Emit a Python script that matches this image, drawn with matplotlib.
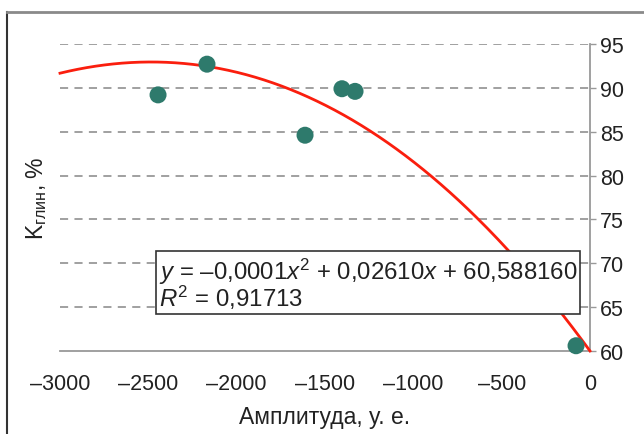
import numpy as np
import matplotlib.pyplot as plt
from matplotlib.lines import Line2D

plt.rcParams["font.family"] = ["Liberation Sans", "DejaVu Sans"]
plt.rcParams["mathtext.fontset"] = "custom"
plt.rcParams["mathtext.rm"] = "Liberation Sans"
plt.rcParams["mathtext.it"] = "Liberation Sans:italic"

amp = [-2445, -2168, -1613, -1404, -1330, -79]
k_glin = [89.2, 92.7, 84.6, 89.9, 89.6, 60.6]

trend_x = [-3000, -2774, -2547, -2168, -1698, -1245, -894, -623, -470, -187, 0]
trend_y = [91.8, 92.5, 92.7, 92.5, 90.0, 85.0, 80.0, 75.0, 71.3, 64.8, 60.2]

x_ticks = [-3000, -2500, -2000, -1500, -1000, -500, 0]
x_labels = ["–3000", "–2500", "–2000", "–1500", "–1000", "–500", "0"]
y_ticks = [60, 65, 70, 75, 80, 85, 90, 95]

eq_text = "$y$ = –0,0001$x^2$ + 0,02610$x$ + 60,588160\n$R^2$ = 0,91713"

fig = plt.figure(figsize=(6.44, 4.35), dpi=100)
ax = fig.add_axes([60 / 644, 83 / 435, 530 / 644, 307 / 435])

coef = np.polyfit(trend_x, trend_y, 3)
xx = np.linspace(-3000, 0, 300)
ax.plot(xx, np.polyval(coef, xx), color="#fa1e0e", lw=2, zorder=3, clip_on=False)

ax.scatter(amp, k_glin, s=150, color="#2e7a6c", zorder=4, clip_on=False, edgecolors="none")

ax.set_xlim(-3000, 0)
ax.set_ylim(60, 95)
ax.set_xticks(x_ticks)
ax.set_xticklabels(x_labels)
ax.set_yticks(y_ticks)
ax.yaxis.tick_right()
ax.tick_params(axis="x", length=0, pad=16, labelsize=15.5, labelcolor="#222222")
ax.tick_params(axis="y", length=4, width=1, color="#999999", pad=3, labelsize=15.5,
               labelcolor="#222222")

for s in ["top", "left"]:
    ax.spines[s].set_visible(False)
for s in ["right", "bottom"]:
    ax.spines[s].set_color("#999999")
    ax.spines[s].set_linewidth(1.3)

for yv in y_ticks[1:]:
    ax.axhline(yv, color="#999999", lw=1.3, dashes=(4.5, 3.5), zorder=1)

ax.set_xlabel("Амплитуда, у. е.", fontsize=16.5, color="#222222", labelpad=8)
ax.set_ylabel("K$_\\mathregular{глин}$, %", fontsize=16.5, color="#222222", labelpad=8)

ax.text(-2440, 70.8, eq_text, fontsize=17.3, color="#222222", va="top", ha="left",
        linespacing=0.85, zorder=5,
        bbox=dict(boxstyle="square,pad=0.12", fc="white", ec="#333333", lw=1.2))

# frame of the original picture
fig.add_artist(Line2D([7 / 644, 7 / 644], [0, 1 - 13 / 435], color="#333333", lw=1.5))
fig.add_artist(Line2D([7 / 644, 1], [1 - 13 / 435, 1 - 13 / 435], color="#8a8a8a", lw=2))

fig.savefig("out.png", dpi=100)
